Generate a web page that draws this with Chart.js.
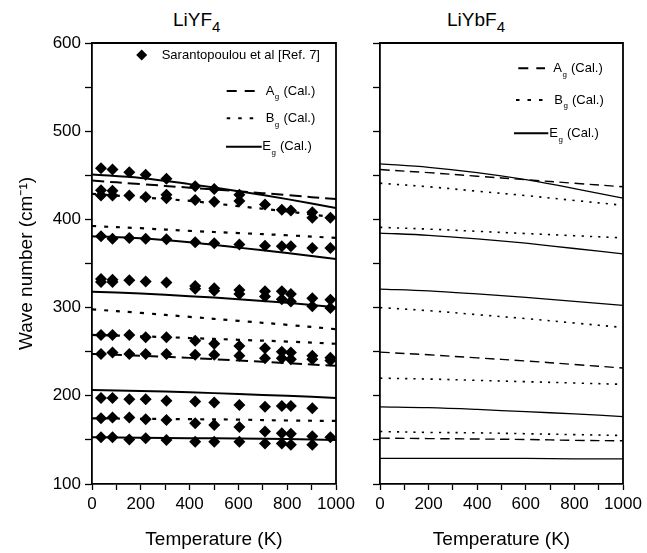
<!DOCTYPE html>
<html>
<head>
<meta charset="utf-8">
<script src="https://cdn.jsdelivr.net/npm/chart.js@4.4.0/dist/chart.umd.min.js"></script>
<style>
  html, body { margin: 0; padding: 0; background: #fff; }
  #wrap { position: relative; width: 647px; height: 553px; overflow: hidden; font-family: "Liberation Sans", Arial, sans-serif; }
  canvas { position: absolute; top: 0; }
  #cLeft { left: 0; width: 360px; height: 553px; }
  #cRight { left: 355px; width: 292px; height: 553px; }
  .ttl { position: absolute; top: 9px; font-size: 19px; line-height: 22px; color: #000; white-space: nowrap; }
  .ttl sub { font-size: 15px; vertical-align: baseline; position: relative; top: 6px; }
</style>
</head>
<body>
<div id="wrap">
  <div class="ttl" style="left:173px">LiYF<sub>4</sub></div>
  <div class="ttl" style="left:447px">LiYbF<sub>4</sub></div>
  <canvas id="cLeft" width="360" height="553"></canvas>
  <canvas id="cRight" width="292" height="553"></canvas>
</div>
<script>
const calcTemps = [0, 200, 400, 600, 800, 1000];

// LiYF4 calculated modes (cm-1)
const liyf4Ag = [
  [444, 440, 436, 432, 427.5, 423],
  [247.5, 245.5, 243, 240, 237, 234]
];
const liyf4Bg = [
  [429, 425, 421, 415, 409, 402],
  [392.5, 390, 387, 384.5, 382, 379],
  [298, 294, 289.5, 285, 280.5, 275.5],
  [269, 267.5, 265.5, 263.5, 261.5, 259],
  [174.5, 174, 173.5, 173, 172, 171.5]
];
const liyf4Eg = [
  [451, 447, 440, 432, 423, 413],
  [381, 378.5, 374, 368, 362, 355],
  [318, 316, 313, 309.5, 305.5, 300.5],
  [206.5, 205.5, 204, 202, 200, 197.5],
  [153, 152.5, 152, 151.5, 151, 150]
];

// LiYbF4 calculated modes (cm-1)
const liybf4Ag = [
  [456.5, 453, 449, 445, 441, 437],
  [249.5, 246.5, 243, 239.5, 235.5, 231.5],
  [152, 151.5, 151, 150.5, 149.5, 149]
];
const liybf4Bg = [
  [441, 437, 432, 427, 421.5, 416],
  [391, 389, 386.5, 384, 381.5, 379],
  [300, 296.5, 292, 287.5, 282.5, 277.5],
  [220, 219, 217.5, 216, 214.5, 213],
  [159.5, 158.5, 158, 157, 156, 155]
];
const liybf4Eg = [
  [463, 459, 453, 445, 435, 424],
  [384.5, 382, 378, 373, 367, 361],
  [321, 319, 315.5, 311.5, 307, 302.5],
  [187.5, 186.5, 184.5, 182, 179.5, 176.5],
  [129, 129, 129, 129, 128.5, 128.5]
];

// Sarantopoulou et al [Ref. 7] measured points, LiYF4
const expTemps = [37, 84, 153, 220, 305, 423, 501, 604, 709, 778, 815, 903, 977];
const expModes = [
  [458, 456.5, 453.5, 450.5, 446, 437.5, 434.5, 428, 417, 411, 410, 408, 402],
  [433, 432.5, 427, 425.5, 428, 422, 420, 421, null, null, null, 402, null],
  [427, 427, null, null, 424, null, null, null, null, null, null, null, null],
  [381, 378, 379, 378, 377.5, 374, 373, 371.5, 370, 369.5, 369.5, 367.5, 367.5],
  [332.5, 331.5, 331, 329.5, 328.5, 324.5, 322, 320, 318.5, 318.5, 315.5, 310.5, 309],
  [329, 329, null, null, null, 321.5, 319, 315.5, 312.5, 309.5, 307, 301.5, 299.5],
  [269, 269, 269, 266.5, 266.5, 262.5, 259, 256.5, 254, 250, 249, 245.5, 243],
  [247.5, 249, 247.5, 247.5, 247.5, 246.5, 246.5, 245.5, 242.5, 242.5, 241.5, 241.5, 240],
  [197.5, 197.5, 196, 196, 194.5, 193.5, 192.5, 189.5, 187.5, 188.5, 188.5, 186, null],
  [174.5, 175.5, 175.5, 173.5, 172.5, 169, 167, 164.5, 159.5, 157.5, 157, 154, null],
  [153, 153, 150.5, 152, 150, 148, 148, 148, 146, 146, 144.5, 144.5, 153]
];

Chart.defaults.font.family = '"Liberation Sans", Arial, sans-serif';
Chart.defaults.color = '#000';

function calcSets(rows, dash, width) {
  return rows.map(r => ({
    data: calcTemps.map((t, i) => ({ x: t, y: r[i] })),
    borderColor: '#000',
    borderWidth: width,
    borderDash: dash,
    pointRadius: 0,
    tension: 0.35,
    fill: false
  }));
}

function expSets() {
  return expModes.map(r => ({
    data: expTemps.map((t, i) => r[i] == null ? null : { x: t, y: r[i] }).filter(Boolean),
    showLine: false,
    pointStyle: 'rectRot',
    pointRadius: 6,
    backgroundColor: '#000',
    borderColor: '#000',
    borderWidth: 0
  }));
}

// box round the plot: top and right edges
const framePlugin = {
  id: 'frame',
  afterDatasetsDraw(chart) {
    const { ctx, chartArea: a } = chart;
    ctx.save();
    ctx.strokeStyle = '#000';
    ctx.lineWidth = 1.8;
    ctx.beginPath();
    ctx.moveTo(a.left, a.top);
    ctx.lineTo(a.right, a.top);
    ctx.lineTo(a.right, a.bottom);
    ctx.stroke();
    ctx.restore();
  }
};

// legend with subscripts (A_g, B_g, E_g)
const modeLegend = {
  id: 'modeLegend',
  afterDraw(chart, args, opts) {
    const { ctx, chartArea: a } = chart;
    ctx.save();
    ctx.fillStyle = '#000';
    ctx.strokeStyle = '#000';
    ctx.textBaseline = 'middle';
    if (opts.exp) {
      const e = opts.exp;
      const cx = a.right + e.dx, cy = a.top + e.dy;
      ctx.beginPath();
      ctx.moveTo(cx - 5.5, cy); ctx.lineTo(cx, cy - 5.5);
      ctx.lineTo(cx + 5.5, cy); ctx.lineTo(cx, cy + 5.5);
      ctx.closePath(); ctx.fill();
      ctx.font = '13px "Liberation Sans", Arial, sans-serif';
      ctx.fillText(e.text, a.right + e.tx, cy);
    }
    opts.items.forEach(it => {
      const y = a.top + it.dy;
      ctx.lineWidth = it.width;
      ctx.setLineDash(it.dash);
      ctx.beginPath();
      ctx.moveTo(a.right + it.x0, y);
      ctx.lineTo(a.right + it.x1, y);
      ctx.stroke();
      ctx.setLineDash([]);
      let x = a.right + it.tx;
      ctx.font = '13px "Liberation Sans", Arial, sans-serif';
      ctx.fillText(it.label, x, y);
      x += ctx.measureText(it.label).width + 0.5;
      ctx.font = '8px "Liberation Sans", Arial, sans-serif';
      ctx.fillText('g', x, y + 6);
      x += ctx.measureText('g').width + 0.5;
      ctx.font = '13px "Liberation Sans", Arial, sans-serif';
      ctx.fillText(' (Cal.)', x, y);
    });
    ctx.restore();
  }
};

function makeScales(yLabels, yWidth) {
  return {
    x: {
      type: 'linear', min: 0, max: 1000,
      afterFit(s) { s.height = 69; s.paddingLeft = 0; s.paddingRight = 0; },
      ticks: {
        stepSize: 100, autoSkip: false, maxRotation: 0, padding: 4,
        font: { size: 17 },
        callback: v => (v % 200 === 0 ? String(v) : '')
      },
      grid: { drawOnChartArea: false, drawTicks: true, tickLength: 6, tickColor: '#000', tickWidth: 1.3 },
      border: { color: '#000', width: 1.8 },
      title: { display: true, text: 'Temperature (K)', font: { size: 19 }, padding: { top: 0, bottom: 2 } }
    },
    y: {
      type: 'linear', min: 100, max: 600,
      afterFit(s) { s.width = yWidth; s.paddingTop = 0; s.paddingBottom = 0; },
      ticks: {
        stepSize: 50, autoSkip: false, padding: 4,
        font: { size: 17 },
        callback: v => (yLabels && v % 100 === 0 ? String(v) : '')
      },
      grid: { drawOnChartArea: false, drawTicks: true, tickLength: 7, tickColor: '#000', tickWidth: 1.3 },
      border: { color: '#000', width: 1.8 },
      title: {
        display: yLabels, text: 'Wave number (cm\u207B\u00B9)', font: { size: 19 },
        padding: { top: 15, bottom: 0 }
      }
    }
  };
}

const baseOpts = {
  responsive: false,
  animation: false,
  events: [],
  parsing: true
};

new Chart(document.getElementById('cLeft'), {
  type: 'scatter',
  data: {
    datasets: [
      ...calcSets(liyf4Ag, [12, 6], 2),
      ...calcSets(liyf4Bg, [4, 8], 2.2),
      ...calcSets(liyf4Eg, [], 2),
      ...expSets()
    ].map(d => ({ ...d, showLine: d.showLine !== false }))
  },
  options: {
    ...baseOpts,
    layout: { padding: { left: 0, right: 24, top: 43, bottom: 0 } },
    scales: makeScales(true, 92),
    plugins: {
      legend: { display: false },
      tooltip: { enabled: false },
      modeLegend: {
        exp: { dx: -194.3, dy: 12, tx: -174.3, text: 'Sarantopoulou et al [Ref. 7]' },
        items: [
          { label: 'A', dash: [10, 8], width: 2, x0: -109.3, x1: -81, dy: 48, tx: -70.3 },
          { label: 'B', dash: [3.5, 8], width: 2, x0: -109.3, x1: -82, dy: 75.3, tx: -70.3 },
          { label: 'E', dash: [], width: 2, x0: -110, x1: -74.3, dy: 103.7, tx: -73.7 }
        ]
      }
    }
  },
  plugins: [framePlugin, modeLegend]
});

new Chart(document.getElementById('cRight'), {
  type: 'scatter',
  data: {
    datasets: [
      ...calcSets(liybf4Ag, [9.5, 5.5], 1.4),
      ...calcSets(liybf4Bg, [2.2, 6.2], 1.6),
      ...calcSets(liybf4Eg, [], 1.3)
    ].map(d => ({ ...d, showLine: true }))
  },
  options: {
    ...baseOpts,
    layout: { padding: { left: 0, right: 24, top: 43, bottom: 0 } },
    scales: makeScales(false, 25),
    plugins: {
      legend: { display: false },
      tooltip: { enabled: false },
      modeLegend: {
        items: [
          { label: 'A', dash: [10, 8], width: 2, x0: -104.7, x1: -78, dy: 25.3, tx: -69.7 },
          { label: 'B', dash: [3.5, 8], width: 2, x0: -107, x1: -80.3, dy: 57, tx: -68.7 },
          { label: 'E', dash: [], width: 2, x0: -109, x1: -74.7, dy: 90.3, tx: -73.7 }
        ]
      }
    }
  },
  plugins: [framePlugin, modeLegend]
});
</script>
</body>
</html>
